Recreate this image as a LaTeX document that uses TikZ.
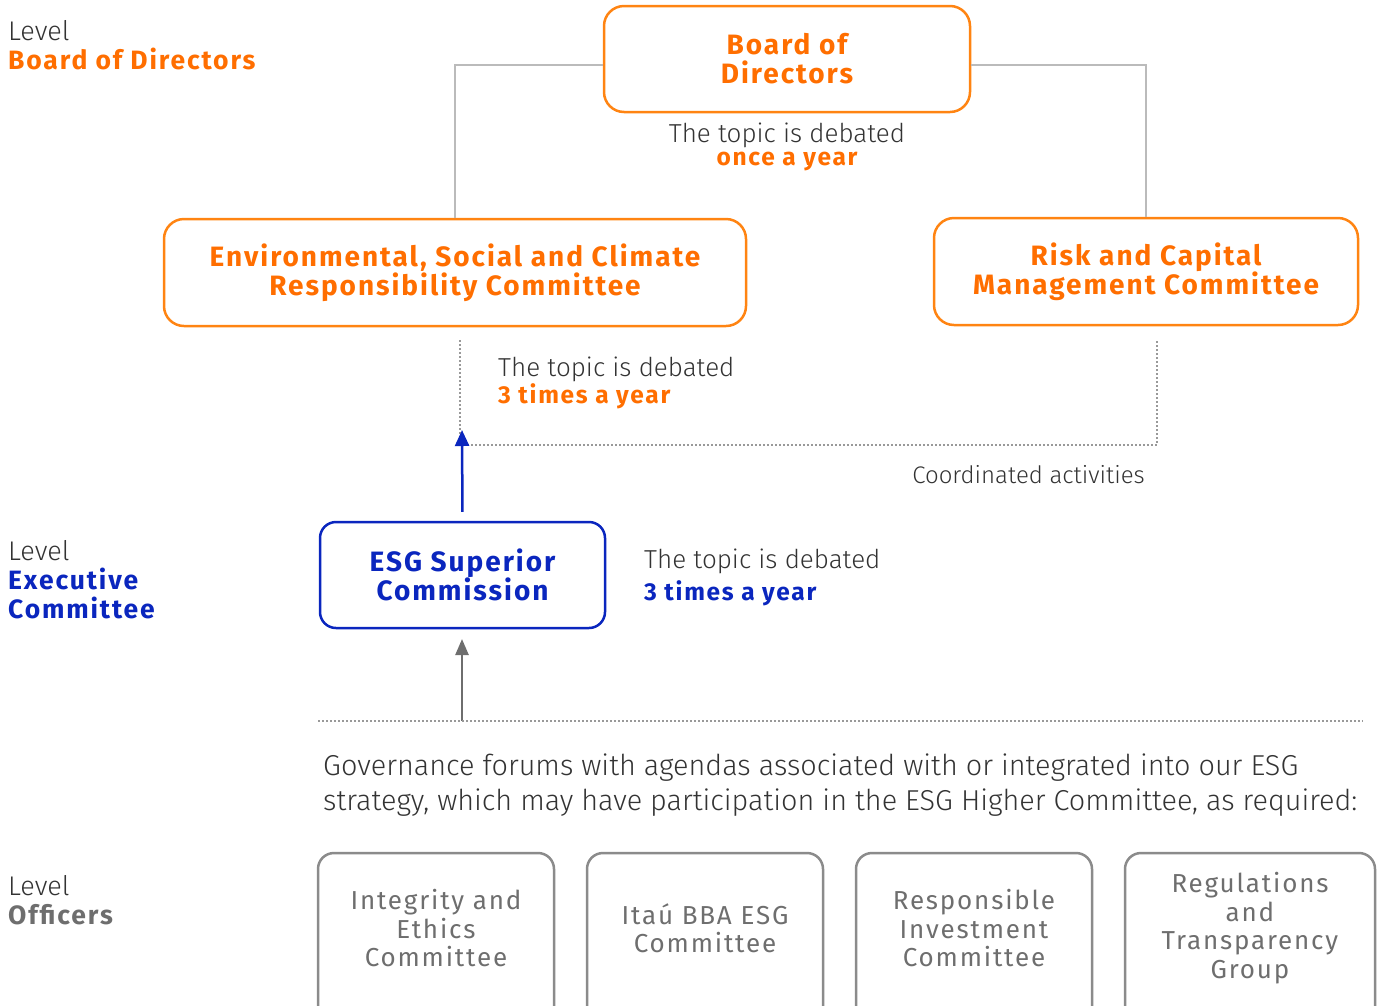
\documentclass[tikz,border=0pt]{standalone}
\usepackage{fontspec}
\setmainfont{Fira Sans}[BoldFeatures={LetterSpace=7}]
\newfontfamily\lightfont{Fira Sans Light}
\newfontfamily\regsp{Fira Sans}[LetterSpace=7]
\usetikzlibrary{arrows.meta}
\definecolor{itorange}{HTML}{FF6E00}
\definecolor{itborder}{HTML}{FF8412}
\definecolor{itblue}{HTML}{0A26BE}
\definecolor{dark}{HTML}{333333}
\definecolor{midgrey}{HTML}{6E6E6E}
\definecolor{linegrey}{HTML}{BBBBBB}
\definecolor{dotgrey}{HTML}{999999}
\tikzset{
  obox/.style={draw=itborder, line width=2.5pt, rounded corners=20pt, align=center, text=itorange,
    font=\fontsize{28}{29}\selectfont\bfseries, inner sep=0pt},
  bbox/.style={draw=itblue, line width=2.5pt, rounded corners=16pt, align=center, text=itblue,
    font=\fontsize{28}{29}\selectfont\bfseries, inner sep=0pt},
  gbox/.style={draw=midgrey!80, line width=2.5pt, rounded corners=16pt, inner sep=0pt,
    minimum width=236pt, minimum height=180pt},
  gtxt/.style={text=midgrey, align=center, font=\fontsize{26}{28.5}\selectfont\regsp, inner sep=0pt},
  lighttxt/.style={text=dark, font=\fontsize{26}{23}\selectfont\lightfont, inner sep=0pt},
  levellbl/.style={anchor=north west, align=left, inner sep=0pt, text=dark, font=\fontsize{27}{29}\selectfont},
  greyline/.style={draw=linegrey, line width=2.5pt},
  dotline/.style={draw=dotgrey, line width=2pt, dash pattern=on 1.6pt off 2.4pt},
}
\newcommand{\lvlo}[1]{{\fontsize{26.5}{29}\selectfont\bfseries\color{itorange}#1}}
\newcommand{\lvlb}[1]{{\fontsize{26.5}{29}\selectfont\bfseries\color{itblue}#1}}
\newcommand{\lvlg}[1]{{\fontsize{26.5}{29}\selectfont\bfseries\color{midgrey}#1}}
\newcommand{\lvlw}{{\lightfont Level}}
\newcommand{\emo}[1]{{\fontsize{24.5}{23}\selectfont\normalfont\bfseries\color{itorange}#1}}
\newcommand{\emb}[1]{{\fontsize{24.5}{32}\selectfont\normalfont\bfseries\color{itblue}#1}}
\begin{document}
\begin{tikzpicture}[x=1pt,y=-1pt]
\useasboundingbox (0,0) rectangle (1381,1005);
\clip (0,0) rectangle (1381,1005);

% level labels
\node[levellbl] (lvl1) at (8,20) {\lvlw\\\lvlo{Board of Directors}};
\node[levellbl] (lvl2) at (8,540) {\lvlw\\\lvlb{Executive}\\\lvlb{Committee}};
\node[levellbl] (lvl3) at (8,875) {\lvlw\\\lvlg{Officers}};

% boxes
\node[obox, minimum width=366pt, minimum height=106pt] (board) at (787,59) {Board of\\Directors};
\node[obox, minimum width=582pt, minimum height=107pt] (escr) at (455,272.5) {Environmental, Social and Climate\\Responsibility Committee};
\node[obox, minimum width=424pt, minimum height=107pt] (risk) at (1146,271.5) {Risk and Capital\\Management Committee};
\node[bbox, minimum width=285pt, minimum height=106pt] (esg) at (462.5,575) {ESG Superior\\Commission};

% grey connectors from board
\draw[greyline] ([yshift=-6pt]board.west) -| (escr.north);
\draw[greyline] ([yshift=-6pt]board.east) -| (risk.north);

% board text
\node[lighttxt, align=center] (t1) at (787,147) {The topic is debated\\\emo{once a year}};

% dotted coordination
\coordinate (d1) at (460,340);
\coordinate (d2) at (460,445);
\coordinate (d3) at (1157,445);
\coordinate (d4) at (1157,340);
\draw[dotline] (d1) -- (d2) -- (d3) -- (d4);
\node[lighttxt, align=left, anchor=west] (t2) at (498,383) {The topic is debated\\\emo{3 times a year}};
\node[lighttxt, anchor=east, font=\fontsize{24}{22}\selectfont\lightfont] (coord) at (1145,475) {Coordinated activities};

% blue arrow
\coordinate (btip) at (462,430);
\draw[itblue, line width=2.5pt, -{Triangle[width=14pt,length=16pt]}, shorten <=9pt] (esg.north) -- (btip);

% esg text
\node[lighttxt, align=left, anchor=west, font=\fontsize{26}{32}\selectfont\lightfont] (t3) at (644,577) {The topic is debated\\\emb{3 times a year}};

% grey arrow and dotted separator
\coordinate (gbase) at (462,721);
\coordinate (gtip) at (462,639);
\draw[midgrey, line width=2.5pt, -{Triangle[width=13pt,length=16pt]}] (gbase) -- (gtip);
\coordinate (s1) at (318,721);
\coordinate (s2) at (1363,721);
\draw[dotline] (s1) -- (s2);

\node[lighttxt, align=left, anchor=north west, font=\fontsize{28.8}{35}\selectfont\lightfont] (gov) at (323,754) {Governance forums with agendas associated with or integrated into our ESG\\strategy, which may have participation in the ESG Higher Committee, as required:};

% bottom boxes
\node[gbox] (c1) at (436,943) {};
\node[gbox] (c2) at (705,943) {};
\node[gbox] (c3) at (974,943) {};
\node[gbox, minimum width=250pt] (c4) at (1250,943) {};
\node[gtxt] (c1t) at (436,928) {Integrity and\\Ethics\\Committee};
\node[gtxt] (c2t) at (705,928) {Itaú BBA ESG\\Committee};
\node[gtxt] (c3t) at (974,928) {Responsible\\Investment\\Committee};
\node[gtxt] (c4t) at (1250,928) {Regulations\\and\\Transparency\\Group};
\end{tikzpicture}
\end{document}
